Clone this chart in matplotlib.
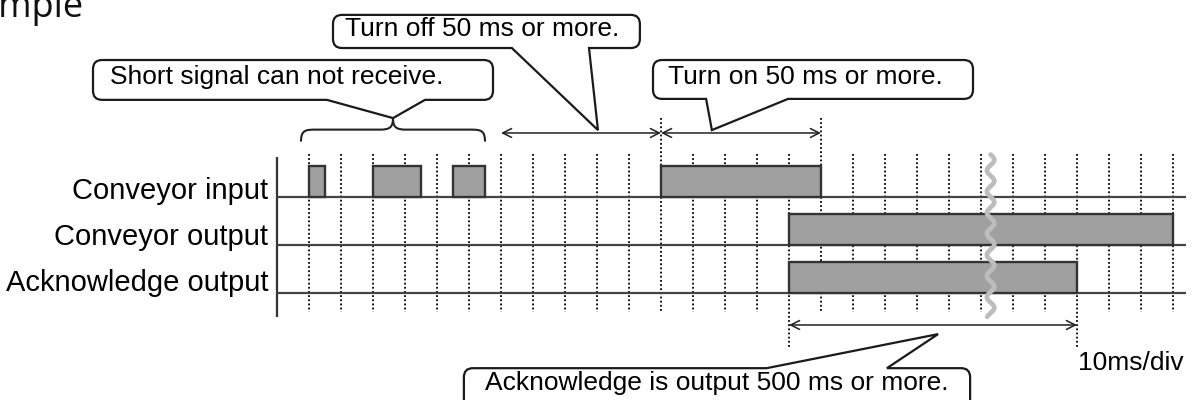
import numpy as np
import matplotlib
matplotlib.use('Agg')
import matplotlib.pyplot as plt
from matplotlib.path import Path
from matplotlib.patches import PathPatch

# signal rows (top to bottom) and their ON intervals in ms (10 ms per division)
signals = ['Conveyor input', 'Conveyor output', 'Acknowledge output']
on_start = [[0, 20, 45, 110], [150], [150]]
on_end = [[5, 35, 55, 160], [270], [240]]

grid_times = list(range(0, 271, 10))
break_time = 213          # where the wavy "time skip" mark sits

# dimension arrows: (start ms, end ms, row level)
arrow_start = [60, 110, 150]
arrow_end = [110, 160, 240]
arrow_level = [-1.34, -1.34, 2.66]

# callouts
callout_text = ['Turn off 50 ms or more.', 'Short signal can not receive.',
                'Turn on 50 ms or more.', 'Acknowledge is output 500 ms or more.']
callout_box = [(7.5, 103.4, -3.80, -3.11), (-67.5, 57.5, -2.86, -2.03),
               (107.5, 207.5, -2.86, -2.05), (48.4, 206.6, 3.56, 4.6)]
callout_tail = [(63.4, 87.5, 90.3, -1.40), (5.6, 36.25, 26.25, -1.65),
                (124.1, 149.7, 125.9, -1.40), (143.0, 180.6, 196.6, 2.85)]
callout_side = ['bottom', 'bottom', 'bottom', 'top']
callout_text_pos = [(54.2, -3.36), (-10.2, -2.36), (155.2, -2.36), (127.3, 4.01)]

FONT = 'Liberation Sans'

fig = plt.figure(figsize=(11.93, 4), dpi=100)
ax = fig.add_axes([0, 0, 1, 1])
ax.set_xlim(-96.5625, 276.25)
ax.set_ylim(4.2229, -4.1104)
ax.axis('off')

# title, mostly cut off at the left edge (as in the source slide)
ax.text(-70.3, -3.76, 'Example', ha='right', va='baseline',
        fontsize=26, family='Open Sans', color='#111')

# vertical axis line
ax.vlines(-10, -0.84, 2.49, color='#333', lw=1.6)

# dotted grid
for t in grid_times:
    top, bot = -0.9, 2.39
    if t in (110, 160):
        top = -1.65
    if t in (150, 240):
        bot = 3.12
    ax.vlines(t, top, bot, color='black', lw=1.3, linestyle=(0, (1, 1.3)), zorder=1)

# baselines and pulses
for i, name in enumerate(signals):
    ax.hlines(i, -10, 274, color='#444', lw=1.6, zorder=2)
    widths = np.array(on_end[i]) - np.array(on_start[i])
    ax.bar(on_start[i], -0.66, width=widths, bottom=i, align='edge',
           facecolor='#a0a0a0', edgecolor='#333', lw=1.7, zorder=3)
    ax.text(-12.8, i + 0.04 - 0.04 * i, name, ha='right', va='baseline',
            fontsize=21, family=FONT, color='black')

# wavy break mark
rr = np.linspace(-0.89, 2.49, 400)
ax.plot(break_time + 1.15 * np.sin(2 * np.pi * (rr + 0.89) / 0.44), rr,
        color='#bdbdbd', lw=3.4, solid_capstyle='round', zorder=4)

# dimension arrows
for a, b, lev in zip(arrow_start, arrow_end, arrow_level):
    ax.annotate('', xy=(b, lev), xytext=(a, lev),
                arrowprops=dict(arrowstyle='<->', lw=1.1, color='#222',
                                shrinkA=0, shrinkB=0, mutation_scale=16))

# brace above the short pulses
b0, b1 = -2.5, 55.0
bm = (b0 + b1) / 2
ye, yh, yt = -1.16, -1.41, -1.65
verts = [(b0, ye), (b0, yh), (b0 + 1.5, yh), (b0 + 5, yh),
         (bm - 4, yh),
         (bm - 1, yh), (bm, yh - 0.05), (bm, yt),
         (bm, yh - 0.05), (bm + 1, yh), (bm + 4, yh),
         (b1 - 5, yh),
         (b1 - 1.5, yh), (b1, yh), (b1, ye)]
codes = [Path.MOVETO, Path.CURVE4, Path.CURVE4, Path.CURVE4,
         Path.LINETO,
         Path.CURVE4, Path.CURVE4, Path.CURVE4,
         Path.CURVE4, Path.CURVE4, Path.CURVE4,
         Path.LINETO,
         Path.CURVE4, Path.CURVE4, Path.CURVE4]
ax.add_patch(PathPatch(Path(verts, codes), fill=False, lw=1.5, edgecolor='#222'))


def callout(box, tail, side):
    x0, x1, y0, y1 = box
    ta, tb, tx, ty = tail
    rx, ry = 2.8, 0.19
    v = [(x0 + rx, y0)]
    c = [Path.MOVETO]
    if side == 'top':
        v += [(ta, y0), (tx, ty), (tb, y0)]
        c += [Path.LINETO] * 3
    v += [(x1 - rx, y0), (x1, y0), (x1, y0 + ry), (x1, y1 - ry), (x1, y1), (x1 - rx, y1)]
    c += [Path.LINETO, Path.CURVE3, Path.CURVE3, Path.LINETO, Path.CURVE3, Path.CURVE3]
    if side == 'bottom':
        v += [(tb, y1), (tx, ty), (ta, y1)]
        c += [Path.LINETO] * 3
    v += [(x0 + rx, y1), (x0, y1), (x0, y1 - ry), (x0, y0 + ry), (x0, y0), (x0 + rx, y0)]
    c += [Path.LINETO, Path.CURVE3, Path.CURVE3, Path.LINETO, Path.CURVE3, Path.CURVE3]
    ax.add_patch(PathPatch(Path(v, c), facecolor='white', edgecolor='#1a1a1a',
                           lw=1.6, zorder=5))


for txt, box, tail, side, pos in zip(callout_text, callout_box, callout_tail,
                                     callout_side, callout_text_pos):
    callout(box, tail, side)
    ax.text(pos[0], pos[1], txt, ha='center', va='baseline', fontsize=19,
            family=FONT, color='black', zorder=6)

ax.text(240.3, 3.6, '10ms/div', ha='left', va='baseline', fontsize=19,
        family=FONT, color='black')

fig.savefig('out.png', dpi=100)
